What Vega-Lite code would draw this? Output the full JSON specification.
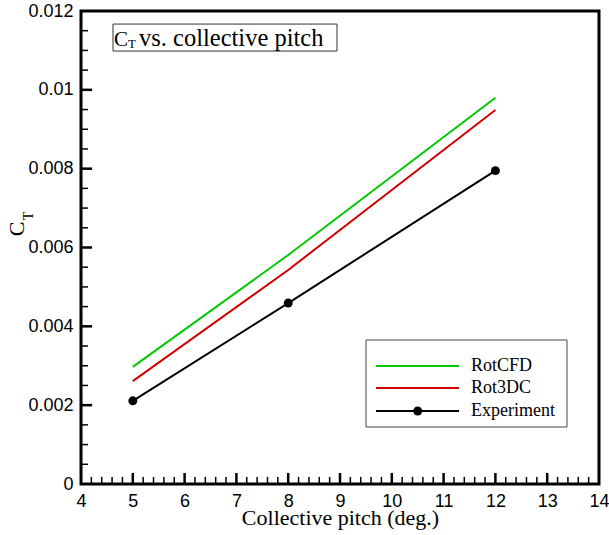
{
  "$schema": "https://vega.github.io/schema/vega-lite/v6.json",
  "autosize": "none",
  "width": 518,
  "height": 473,
  "padding": {"left": 81, "top": 11, "right": 10, "bottom": 51},
  "background": "white",
  "config": {
    "view": {"stroke": "black", "strokeWidth": 3},
    "axis": {"grid": false, "labelFont": "Liberation Sans", "labelFontSize": 18, "labelColor": "black", "titleFont": "Liberation Serif", "titleFontSize": 22, "titleFontWeight": "normal", "titleColor": "black"}
  },
  "data": {"values": [
    {"series": "RotCFD", "pitch": 5, "ct": 0.00297},
    {"series": "RotCFD", "pitch": 8, "ct": 0.00581},
    {"series": "RotCFD", "pitch": 12, "ct": 0.0098},
    {"series": "Rot3DC", "pitch": 5, "ct": 0.00261},
    {"series": "Rot3DC", "pitch": 8, "ct": 0.00543},
    {"series": "Rot3DC", "pitch": 12, "ct": 0.00949},
    {"series": "Experiment", "pitch": 5, "ct": 0.00211},
    {"series": "Experiment", "pitch": 8, "ct": 0.00459},
    {"series": "Experiment", "pitch": 12, "ct": 0.00795}
  ]},
  "layer": [
    {
      "mark": {"type": "line", "strokeWidth": 2},
      "encoding": {
        "x": {"field": "pitch", "type": "quantitative", "scale": {"domain": [4, 14], "nice": false, "zero": false},
          "axis": {"orient": "bottom", "title": "Collective pitch (deg.)", "titlePadding": -3,
            "values": [4,5,6,7,8,9,10,11,12,13,14],
            "labelOverlap": false, "labelFlush": false,
            "domain": false, "ticks": false, "tickSize": 0, "labelPadding": 8}},
        "y": {"field": "ct", "type": "quantitative", "scale": {"domain": [0, 0.012], "nice": false},
          "axis": {"orient": "left", "title": null,
            "values": [0,0.002,0.004,0.006,0.008,0.01,0.012],
            "labelExpr": "format(datum.value, '~g')",
            "labelOverlap": false, "labelFlush": false,
            "domain": false, "ticks": false, "tickSize": 0, "labelPadding": 8}},
        "color": {"field": "series", "type": "nominal", "scale": {"domain": ["RotCFD", "Rot3DC", "Experiment"], "range": ["#00c800", "#d40000", "black"]}, "legend": null}
      }
    },
    {
      "transform": [{"filter": "datum.series === 'Experiment'"}],
      "mark": {"type": "point", "filled": true, "color": "black", "opacity": 1, "size": 80},
      "encoding": {
        "x": {"field": "pitch", "type": "quantitative"},
        "y": {"field": "ct", "type": "quantitative"}
      }
    },
    {
      "data": {"values": [{"v": 5}, {"v": 6}, {"v": 7}, {"v": 8}, {"v": 9}, {"v": 10}, {"v": 11}, {"v": 12}, {"v": 13}]},
      "mark": {"type": "rule", "color": "black", "strokeWidth": 2.5},
      "encoding": {"x": {"field": "v", "type": "quantitative"}, "y": {"datum": 0}, "y2": {"datum": 0.00028}}
    },
    {
      "data": {"values": [{"v": 4.2}, {"v": 4.4}, {"v": 4.6}, {"v": 4.8}, {"v": 5.2}, {"v": 5.4}, {"v": 5.6}, {"v": 5.8}, {"v": 6.2}, {"v": 6.4}, {"v": 6.6}, {"v": 6.8}, {"v": 7.2}, {"v": 7.4}, {"v": 7.6}, {"v": 7.8}, {"v": 8.2}, {"v": 8.4}, {"v": 8.6}, {"v": 8.8}, {"v": 9.2}, {"v": 9.4}, {"v": 9.6}, {"v": 9.8}, {"v": 10.2}, {"v": 10.4}, {"v": 10.6}, {"v": 10.8}, {"v": 11.2}, {"v": 11.4}, {"v": 11.6}, {"v": 11.8}, {"v": 12.2}, {"v": 12.4}, {"v": 12.6}, {"v": 12.8}, {"v": 13.2}, {"v": 13.4}, {"v": 13.6}, {"v": 13.8}]},
      "mark": {"type": "rule", "color": "black", "strokeWidth": 1.5},
      "encoding": {"x": {"field": "v", "type": "quantitative"}, "y": {"datum": 0}, "y2": {"datum": 0.00018}}
    },
    {
      "data": {"values": [{"v": 0.002}, {"v": 0.004}, {"v": 0.006}, {"v": 0.008}, {"v": 0.01}]},
      "mark": {"type": "rule", "color": "black", "strokeWidth": 2.5},
      "encoding": {"y": {"field": "v", "type": "quantitative"}, "x": {"datum": 4}, "x2": {"datum": 4.215}}
    },
    {
      "data": {"values": [{"v": 0.0005}, {"v": 0.001}, {"v": 0.0015}, {"v": 0.0025}, {"v": 0.003}, {"v": 0.0035}, {"v": 0.0045}, {"v": 0.005}, {"v": 0.0055}, {"v": 0.0065}, {"v": 0.007}, {"v": 0.0075}, {"v": 0.0085}, {"v": 0.009}, {"v": 0.0095}, {"v": 0.0105}, {"v": 0.011}, {"v": 0.0115}]},
      "mark": {"type": "rule", "color": "black", "strokeWidth": 1.5},
      "encoding": {"y": {"field": "v", "type": "quantitative"}, "x": {"datum": 4}, "x2": {"datum": 4.135}}
    },
    {
      "data": {"values": [{}]},
      "mark": {"type": "rect", "fill": "white", "stroke": "#333333", "strokeWidth": 1},
      "encoding": {"x": {"datum": 4.618}, "x2": {"datum": 8.942}, "y": {"datum": 0.011669}, "y2": {"datum": 0.010984}}
    },
    {
      "data": {"values": [{}]},
      "mark": {"type": "text", "font": "Liberation Serif", "fontSize": 21, "align": "left", "baseline": "alphabetic", "color": "black", "text": "C"},
      "encoding": {"x": {"datum": 4.637}, "y": {"datum": 0.011111}}
    },
    {
      "data": {"values": [{}]},
      "mark": {"type": "text", "font": "Liberation Serif", "fontSize": 13, "align": "left", "baseline": "alphabetic", "color": "black", "text": "T"},
      "encoding": {"x": {"datum": 4.905}, "y": {"datum": 0.01106}}
    },
    {
      "data": {"values": [{}]},
      "mark": {"type": "text", "font": "Liberation Serif", "fontSize": 24.5, "align": "left", "baseline": "alphabetic", "color": "black", "text": "vs. collective pitch"},
      "encoding": {"x": {"datum": 5.12}, "y": {"datum": 0.011111}}
    },
    {
      "data": {"values": [{}]},
      "mark": {"type": "text", "font": "Liberation Serif", "fontSize": 22, "align": "center", "baseline": "middle", "angle": 270, "color": "black", "text": "C"},
      "encoding": {"x": {"datum": 2.764}, "y": {"datum": 0.00647}}
    },
    {
      "data": {"values": [{}]},
      "mark": {"type": "text", "font": "Liberation Serif", "fontSize": 14, "align": "center", "baseline": "middle", "angle": 270, "color": "black", "text": "T"},
      "encoding": {"x": {"datum": 2.996}, "y": {"datum": 0.0068}}
    },
    {
      "data": {"values": [{}]},
      "mark": {"type": "rect", "fill": "white", "stroke": "#444444", "strokeWidth": 1},
      "encoding": {"x": {"datum": 9.502}, "x2": {"datum": 13.382}, "y": {"datum": 0.003653}, "y2": {"datum": 0.001446}}
    },
    {
      "data": {"values": [{}]},
      "mark": {"type": "rule", "color": "#00c800", "strokeWidth": 2},
      "encoding": {"x": {"datum": 9.695}, "x2": {"datum": 11.297}, "y": {"datum": 0.002993}}
    },
    {
      "data": {"values": [{}]},
      "mark": {"type": "rule", "color": "#d40000", "strokeWidth": 2},
      "encoding": {"x": {"datum": 9.695}, "x2": {"datum": 11.297}, "y": {"datum": 0.002435}}
    },
    {
      "data": {"values": [{}]},
      "mark": {"type": "rule", "color": "black", "strokeWidth": 2},
      "encoding": {"x": {"datum": 9.695}, "x2": {"datum": 11.297}, "y": {"datum": 0.001852}}
    },
    {
      "data": {"values": [{}]},
      "mark": {"type": "point", "filled": true, "color": "black", "opacity": 1, "size": 80},
      "encoding": {"x": {"datum": 10.5}, "y": {"datum": 0.001852}}
    },
    {
      "data": {"values": [{}]},
      "mark": {"type": "text", "font": "Liberation Serif", "fontSize": 18, "align": "left", "baseline": "middle", "color": "black", "text": "RotCFD"},
      "encoding": {"x": {"datum": 11.529}, "y": {"datum": 0.002993}}
    },
    {
      "data": {"values": [{}]},
      "mark": {"type": "text", "font": "Liberation Serif", "fontSize": 18, "align": "left", "baseline": "middle", "color": "black", "text": "Rot3DC"},
      "encoding": {"x": {"datum": 11.529}, "y": {"datum": 0.002435}}
    },
    {
      "data": {"values": [{}]},
      "mark": {"type": "text", "font": "Liberation Serif", "fontSize": 18, "align": "left", "baseline": "middle", "color": "black", "text": "Experiment"},
      "encoding": {"x": {"datum": 11.529}, "y": {"datum": 0.001852}}
    }
  ]
}
